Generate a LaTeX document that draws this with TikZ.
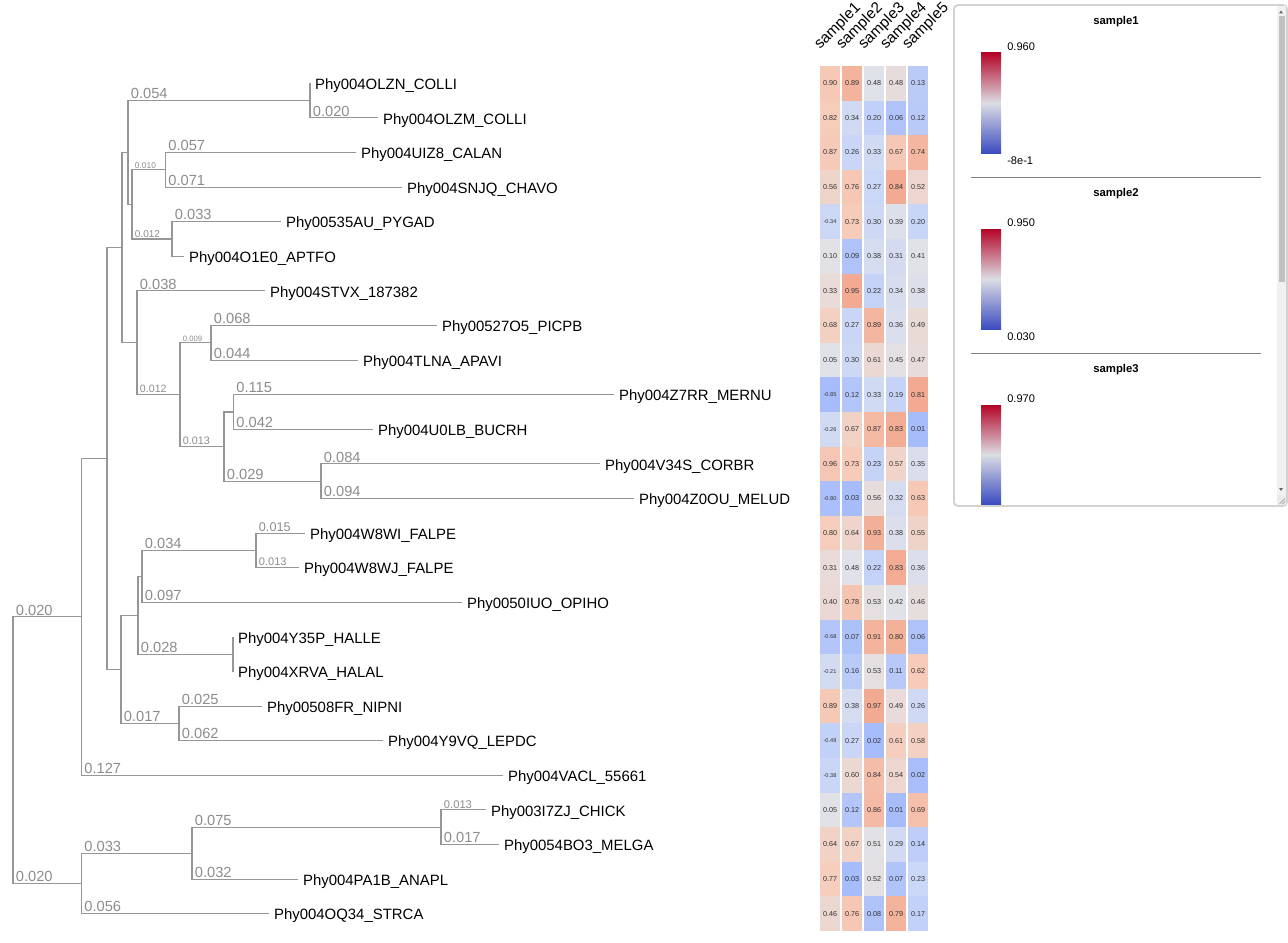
\documentclass[tikz,border=0pt]{standalone}
\usepackage{fontspec}
\setmainfont{Liberation Sans}
\usepackage{tikz}
\definecolor{treegray}{HTML}{969696}
\definecolor{labgray}{HTML}{8C8C8C}
\definecolor{cellhot}{HTML}{F2AA92}
\definecolor{cellwarm}{HTML}{F6CDBB}
\definecolor{cellmid}{HTML}{E1E2E8}
\definecolor{cellcool}{HTML}{C9D6F7}
\definecolor{cellcold}{HTML}{A7BCFA}
\definecolor{legred}{HTML}{B40426}
\definecolor{legmid}{HTML}{DCDDE4}
\definecolor{legblue}{HTML}{3B4CC0}
\definecolor{panelline}{HTML}{D2D2D2}
\definecolor{trackgray}{HTML}{F1F1F1}
\definecolor{thumbgray}{HTML}{C1C1C1}
\tikzset{
  branch/.style={draw=treegray,line width=0.8pt},
  blen/.style={anchor=base west,inner sep=0pt,xshift=1.8pt,yshift=1.3pt,text=labgray,font=\fontsize{#1}{#1}\selectfont},
  blen/.default=11,
  leaf/.style={anchor=base west,inner sep=0pt,xshift=3.6pt,yshift=-4.6pt,font=\fontsize{11.2}{12}\selectfont},
  celltext/.style={inner sep=0pt,text=black!80,font=\fontsize{5.4}{6}\selectfont},
  cellneg/.style={celltext,font=\fontsize{4.2}{5}\selectfont},
  colhead/.style={rotate=45,anchor=base west,inner sep=0pt,font=\fontsize{11.5}{12}\selectfont},
  legtitle/.style={inner sep=0pt,font=\bfseries\fontsize{8.5}{9}\selectfont},
  legnum/.style={anchor=west,inner sep=0pt,font=\fontsize{8.3}{9}\selectfont},
}
% leaf tip: name, x, y, label
\newcommand{\tip}[4]{%
  \coordinate (#1) at (#2,#3);
  \node[leaf] (l#1) at (#1) {#4};
}
% labelled branch: [size] parent, child, length
\newcommand{\edge}[4][11]{\draw[branch] (#2) |- (#3) node[pos=.5,blen=#1] (b#3) {#4};}
\newcommand{\stub}[2]{\draw[branch] (#1) |- (#2);}
% one heatmap cell: row, col, x, value, low, centre, high
\newcommand{\hcell}[7]{%
  \pgfmathsetmacro{\cellt}{(#4<#6) ? 0.5*((#4)-(#5))/((#6)-(#5)) : 0.5+0.5*((#4)-(#6))/((#7)-(#6))}
  \ifdim\cellt pt<0.25pt
    \pgfmathsetmacro{\cellp}{min(100,max(0,(0.25-\cellt)*400))}\colorlet{cellc}{cellcold!\cellp!cellcool}
  \else\ifdim\cellt pt<0.5pt
    \pgfmathsetmacro{\cellp}{min(100,max(0,(0.5-\cellt)*400))}\colorlet{cellc}{cellcool!\cellp!cellmid}
  \else\ifdim\cellt pt<0.75pt
    \pgfmathsetmacro{\cellp}{min(100,max(0,(\cellt-0.5)*400))}\colorlet{cellc}{cellwarm!\cellp!cellmid}
  \else
    \pgfmathsetmacro{\cellp}{min(100,max(0,(\cellt-0.75)*400))}\colorlet{cellc}{cellhot!\cellp!cellwarm}
  \fi\fi\fi
  \fill[cellc] (#3-10,\rowy-17.3) rectangle (#3+10,\rowy+17.3);
  \ifdim #4pt<0pt \node[cellneg] (c#1-#2) at (#3,\rowy) {#4};
  \else \node[celltext] (c#1-#2) at (#3,\rowy) {#4};\fi
}
\newcommand{\hrow}[6]{%
  \pgfmathsetmacro{\rowy}{83.3+34.6*(#1-1)}
  \hcell{#1}{1}{830}{#2}{-0.85}{0.06}{1.56}
  \hcell{#1}{2}{852}{#3}{0.03}{0.49}{0.95}
  \hcell{#1}{3}{874}{#4}{0.02}{0.495}{0.97}
  \hcell{#1}{4}{896}{#5}{0.01}{0.425}{0.84}
  \hcell{#1}{5}{918}{#6}{0.01}{0.41}{0.81}
}

\begin{document}
\begin{tikzpicture}[x=0.75pt,y=-0.75pt]
\useasboundingbox (0,0) rectangle (1288,942);

% tips
\tip{OLZN}{310}{83.3}{Phy004OLZN\_COLLI}
\tip{OLZM}{378}{117.9}{Phy004OLZM\_COLLI}
\tip{UIZ8}{356}{152.5}{Phy004UIZ8\_CALAN}
\tip{SNJQ}{402}{187.1}{Phy004SNJQ\_CHAVO}
\tip{AU535}{281}{221.7}{Phy00535AU\_PYGAD}
\tip{OIE0}{184}{256.3}{Phy004O1E0\_APTFO}
\tip{STVX}{265}{290.9}{Phy004STVX\_187382}
\tip{O5527}{437}{325.5}{Phy00527O5\_PICPB}
\tip{TLNA}{358}{360.1}{Phy004TLNA\_APAVI}
\tip{Z7RR}{614}{394.7}{Phy004Z7RR\_MERNU}
\tip{U0LB}{373}{429.3}{Phy004U0LB\_BUCRH}
\tip{V34S}{600}{463.9}{Phy004V34S\_CORBR}
\tip{Z0OU}{634}{498.5}{Phy004Z0OU\_MELUD}
\tip{WI}{305}{533.1}{Phy004W8WI\_FALPE}
\tip{WJ}{299}{567.7}{Phy004W8WJ\_FALPE}
\tip{IUO}{462}{602.3}{Phy0050IUO\_OPIHO}
\tip{Y35P}{233}{636.9}{Phy004Y35P\_HALLE}
\tip{XRVA}{233}{671.5}{Phy004XRVA\_HALAL}
\tip{FR508}{262}{706.1}{Phy00508FR\_NIPNI}
\tip{Y9VQ}{383}{740.7}{Phy004Y9VQ\_LEPDC}
\tip{VACL}{503}{775.3}{Phy004VACL\_55661}
\tip{ZJ}{486}{809.9}{Phy003I7ZJ\_CHICK}
\tip{BO3}{499}{844.5}{Phy0054BO3\_MELGA}
\tip{PA1B}{298}{879.1}{Phy004PA1B\_ANAPL}
\tip{OQ34}{269}{913.7}{Phy004OQ34\_STRCA}

% inner nodes
\coordinate (root) at (13,750.15);
\coordinate (nA) at (81.5,616.9);
\coordinate (nB) at (81.5,883.4);
\coordinate (nC) at (107,458.5);
\coordinate (nD) at (122,247.65);
\coordinate (nE) at (121,669.35);
\coordinate (nF) at (128,152.5);
\coordinate (nG) at (137,342.8);
\coordinate (nH) at (310,100.6);
\coordinate (nI) at (132,204.4);
\coordinate (nJ) at (165.5,169.8);
\coordinate (nK) at (172,239);
\coordinate (nL) at (180,394.7);
\coordinate (nM) at (211,342.8);
\coordinate (nN) at (224,446.6);
\coordinate (nO) at (233.5,412);
\coordinate (nP) at (321,481.2);
\coordinate (nQ) at (138,615.3);
\coordinate (nR) at (179,723.4);
\coordinate (nS) at (142,576.35);
\coordinate (nT) at (233,654.2);
\coordinate (nU) at (256,550.4);
\coordinate (nV) at (192,853.15);
\coordinate (nW) at (441,827.2);

% branches
\edge{root}{nA}{0.020}
\edge{root}{nB}{0.020}
\stub{nA}{nC}
\edge{nA}{VACL}{0.127}
\stub{nC}{nD}
\stub{nC}{nE}
\stub{nD}{nF}
\stub{nD}{nG}
\edge{nF}{nH}{0.054}
\stub{nF}{nI}
\stub{nH}{OLZN}
\edge{nH}{OLZM}{0.020}
\edge[6.3]{nI}{nJ}{0.010}
\edge[7.5]{nI}{nK}{0.012}
\edge{nJ}{UIZ8}{0.057}
\edge{nJ}{SNJQ}{0.071}
\edge{nK}{AU535}{0.033}
\stub{nK}{OIE0}
\edge{nG}{STVX}{0.038}
\edge[8]{nG}{nL}{0.012}
\edge[5.8]{nL}{nM}{0.009}
\edge[8.1]{nL}{nN}{0.013}
\edge{nM}{O5527}{0.068}
\edge{nM}{TLNA}{0.044}
\stub{nN}{nO}
\edge{nN}{nP}{0.029}
\edge{nO}{Z7RR}{0.115}
\edge{nO}{U0LB}{0.042}
\edge{nP}{V34S}{0.084}
\edge{nP}{Z0OU}{0.094}
\stub{nE}{nQ}
\edge{nE}{nR}{0.017}
\stub{nQ}{nS}
\edge{nQ}{nT}{0.028}
\edge{nS}{nU}{0.034}
\edge{nS}{IUO}{0.097}
\edge[9.5]{nU}{WI}{0.015}
\edge[8.3]{nU}{WJ}{0.013}
\stub{nT}{Y35P}
\stub{nT}{XRVA}
\edge{nR}{FR508}{0.025}
\edge{nR}{Y9VQ}{0.062}
\edge{nB}{nV}{0.033}
\edge{nB}{OQ34}{0.056}
\edge{nV}{nW}{0.075}
\edge{nV}{PA1B}{0.032}
\edge[8.4]{nW}{ZJ}{0.013}
\edge{nW}{BO3}{0.017}

% heatmap
\node[colhead] (h1) at (820,50) {sample1};
\node[colhead] (h2) at (842,50) {sample2};
\node[colhead] (h3) at (864,50) {sample3};
\node[colhead] (h4) at (886,50) {sample4};
\node[colhead] (h5) at (908,50) {sample5};
\hrow{1}{0.90}{0.89}{0.48}{0.48}{0.13}
\hrow{2}{0.82}{0.34}{0.20}{0.06}{0.12}
\hrow{3}{0.87}{0.26}{0.33}{0.67}{0.74}
\hrow{4}{0.56}{0.76}{0.27}{0.84}{0.52}
\hrow{5}{-0.34}{0.73}{0.30}{0.39}{0.20}
\hrow{6}{0.10}{0.09}{0.38}{0.31}{0.41}
\hrow{7}{0.33}{0.95}{0.22}{0.34}{0.38}
\hrow{8}{0.68}{0.27}{0.89}{0.36}{0.49}
\hrow{9}{0.05}{0.30}{0.61}{0.45}{0.47}
\hrow{10}{-0.85}{0.12}{0.33}{0.19}{0.81}
\hrow{11}{-0.26}{0.67}{0.87}{0.83}{0.01}
\hrow{12}{0.96}{0.73}{0.23}{0.57}{0.35}
\hrow{13}{-0.80}{0.03}{0.56}{0.32}{0.63}
\hrow{14}{0.80}{0.64}{0.93}{0.38}{0.55}
\hrow{15}{0.31}{0.48}{0.22}{0.83}{0.36}
\hrow{16}{0.40}{0.78}{0.53}{0.42}{0.46}
\hrow{17}{-0.68}{0.07}{0.91}{0.80}{0.06}
\hrow{18}{-0.21}{0.16}{0.53}{0.11}{0.62}
\hrow{19}{0.89}{0.38}{0.97}{0.49}{0.26}
\hrow{20}{-0.49}{0.27}{0.02}{0.61}{0.58}
\hrow{21}{-0.38}{0.60}{0.84}{0.54}{0.02}
\hrow{22}{0.05}{0.12}{0.86}{0.01}{0.69}
\hrow{23}{0.64}{0.67}{0.51}{0.29}{0.14}
\hrow{24}{0.77}{0.03}{0.52}{0.07}{0.23}
\hrow{25}{0.46}{0.76}{0.08}{0.79}{0.17}

% legend panel
\draw[panelline,fill=white,line width=1.4pt,rounded corners=3pt] (954,5) rectangle (1287,506);
\fill[trackgray] (1277,6) rectangle (1286.3,505);
\fill[thumbgray] (1279,16) rectangle (1285,282);
\fill[black!60] (1279,13.5) -- (1283,13.5) -- (1281,10.5) -- cycle;
\fill[black!60] (1279,488) -- (1283,488) -- (1281,491) -- cycle;
\fill[black!8] (1277,495) rectangle (1286.3,505);
\draw[black!45,line width=0.4pt] (1279.5,504) -- (1285,498.5) (1282.5,504) -- (1285,501.5);

\node[legtitle] (t1) at (1116,22) {sample1};
\shade[top color=legred,bottom color=legblue,middle color=legmid] (981,53) rectangle (1001,153);
\node[legnum] (hi1) at (1007,47) {0.960};
\node[legnum] (lo1) at (1007,161) {-8e-1};
\draw[black!50,line width=0.75pt] (971,177) -- (1261,177);

\node[legtitle] (t2) at (1116,194) {sample2};
\shade[top color=legred,bottom color=legblue,middle color=legmid] (981,229) rectangle (1001,329);
\node[legnum] (hi2) at (1007,223) {0.950};
\node[legnum] (lo2) at (1007,337) {0.030};
\draw[black!50,line width=0.75pt] (971,353) -- (1261,353);

\node[legtitle] (t3) at (1116,370) {sample3};
\shade[top color=legred,bottom color=legblue,middle color=legmid] (981,405) rectangle (1001,504);
\node[legnum] (hi3) at (1007,399) {0.970};
\end{tikzpicture}
\end{document}
